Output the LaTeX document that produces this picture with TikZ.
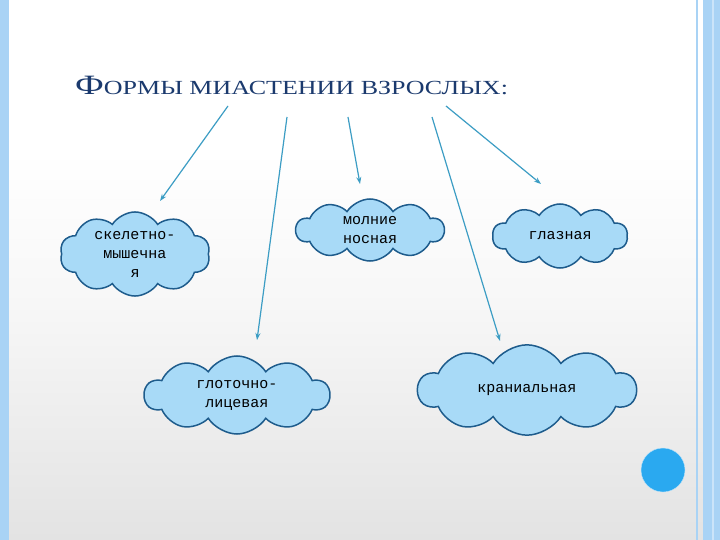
\documentclass[tikz,border=0pt]{standalone}
\usepackage{fontspec}
\usepackage{graphicx}
\setmainfont{Liberation Serif}
\newfontfamily\monofnt{Liberation Mono}
\usetikzlibrary{shapes.symbols,arrows.meta}
\definecolor{cfill}{HTML}{A8DAF7}
\definecolor{cline}{HTML}{1E5C8C}
\definecolor{arr}{HTML}{3C9DC4}
\definecolor{ttl}{HTML}{1B3A6E}
\definecolor{frm}{HTML}{A9D3F5}
\tikzset{
 cl/.style={cloud, cloud puffs=10, cloud puff arc=115, aspect=2, draw=cline, line width=1.5pt, fill=cfill, inner sep=0pt, align=center, font=\monofnt\fontsize{15}{19}\selectfont},
 ar/.style={draw=arr, line width=1.2pt, -{Stealth[length=7pt,width=5pt]}}
}
\begin{document}
\begin{tikzpicture}[x=1pt,y=-1pt]
\useasboundingbox (0,0) rectangle (720,540);
\fill[white] (0,0) rectangle (720,150);
\shade[top color=white, bottom color=gray!6] (0,150) rectangle (720,300);
\shade[top color=gray!6, bottom color=gray!22] (0,300) rectangle (720,540);
\fill[frm] (0,0) rectangle (9,540);
\fill[frm] (703,0) rectangle (720,540);
\draw[frm, line width=1.5pt] (697,0) -- (697,540);
\fill[frm!60] (712,0) rectangle (714,540);
\node[anchor=base west, text=ttl, inner sep=0pt] (title) at (75,95)
 {\scalebox{1.3}[1]{\fontsize{28}{30}\selectfont Ф\fontsize{20}{22}\selectfont ОРМЫ МИАСТЕНИИ ВЗРОСЛЫХ:}};
\node[cl, minimum width=150, minimum height=82] (sk) at (135,254) {скелетно-\\мышечна\\я};
\node[cl, minimum width=148, minimum height=62] (mo) at (370,230) {молние\\носная};
\node[cl, minimum width=135, minimum height=64] (gl) at (560,236) {глазная};
\node[cl, minimum width=185, minimum height=78] (gf) at (237,395) {глоточно-\\лицевая};
\node[cl, minimum width=218, minimum height=74] (kr) at (527,390) {краниальная};
\coordinate (s1) at (228,106); \coordinate (e1) at (160,201);
\coordinate (s2) at (287,117); \coordinate (e2) at (257,340);
\coordinate (s3) at (348,117); \coordinate (e3) at (360,184);
\coordinate (s4) at (432,117); \coordinate (e4) at (500,341);
\coordinate (s5) at (446,106); \coordinate (e5) at (541,184);
\draw[ar] (s1) -- (e1);
\draw[ar] (s2) -- (e2);
\draw[ar] (s3) -- (e3);
\draw[ar] (s4) -- (e4);
\draw[ar] (s5) -- (e5);
\fill[draw=cfill!70, fill={rgb,255:red,42;green,169;blue,240}] (663,470) circle (22);
\end{tikzpicture}
\end{document}
